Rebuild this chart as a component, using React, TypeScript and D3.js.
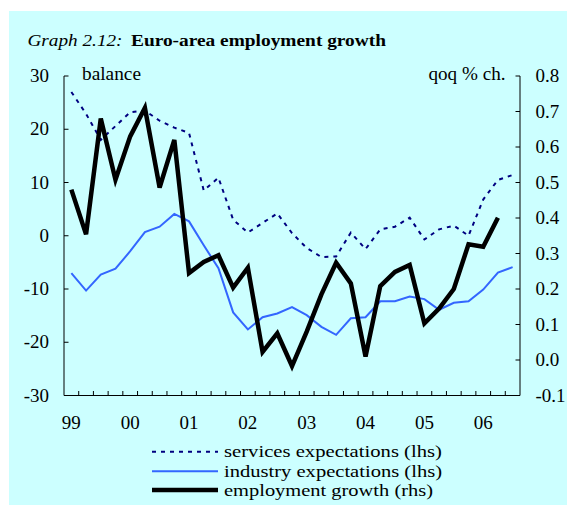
import * as d3 from "d3";

// quarterly, 1999Q1 .. 2006Q3
const quarters = [
  "1999Q1", "1999Q2", "1999Q3", "1999Q4",
  "2000Q1", "2000Q2", "2000Q3", "2000Q4",
  "2001Q1", "2001Q2", "2001Q3", "2001Q4",
  "2002Q1", "2002Q2", "2002Q3", "2002Q4",
  "2003Q1", "2003Q2", "2003Q3", "2003Q4",
  "2004Q1", "2004Q2", "2004Q3", "2004Q4",
  "2005Q1", "2005Q2", "2005Q3", "2005Q4",
  "2006Q1", "2006Q2", "2006Q3",
];

// balance (lhs)
const servicesExp = [
  27.0, 22.9, 18.0, 20.6, 23.2, 23.5, 21.6, 20.3,
  19.3, 8.5, 10.9, 3.0, 0.6, 2.4, 4.2, 0.5,
  -2.3, -4.0, -3.9, 0.6, -2.5, 1.2, 1.7, 3.4,
  -0.7, 1.2, 1.9, 0.0, 6.8, 10.5, 11.4,
];
const industryExp = [
  -7.0, -10.3, -7.3, -6.2, -2.9, 0.7, 1.7, 4.1,
  2.7, -1.8, -6.1, -14.4, -17.6, -15.3, -14.6, -13.4,
  -14.9, -17.1, -18.6, -15.5, -15.3, -12.3, -12.3, -11.4,
  -11.9, -13.9, -12.6, -12.3, -10.1, -6.9, -5.9,
];
// qoq % ch. (rhs), ends 2006Q2
const employmentGrowth = [
  0.48, 0.354, 0.68, 0.508, 0.63, 0.71, 0.486, 0.62,
  0.245, 0.276, 0.295, 0.204, 0.26, 0.023, 0.075, -0.017,
  0.08, 0.185, 0.274, 0.216, 0.01, 0.208, 0.248, 0.268,
  0.103, 0.145, 0.2, 0.326, 0.319, 0.401,
];

const lhsTicks = [30, 20, 10, 0, -10, -20, -30];
const rhsTicks = [0.8, 0.7, 0.6, 0.5, 0.4, 0.3, 0.2, 0.1, 0.0, -0.1];

const W = 567;
const H = 505;
const left = 64;
const right = 520;
const top = 76;
const bottom = 395.5;
const font = "'Liberation Serif', 'Times New Roman', serif";

export default function App() {
  const x = d3.scaleBand<string>().domain(quarters).range([left, right]);
  const yL = d3.scaleLinear().domain([-30, 30]).range([bottom, top]);
  const yR = d3.scaleLinear().domain([-0.1, 0.8]).range([bottom, top]);
  const cx = (i: number) => (x(quarters[i]) as number) + x.bandwidth() / 2;

  const lineL = d3.line<number>().x((d, i) => cx(i)).y(d => yL(d));
  const lineR = d3.line<number>().x((d, i) => cx(i)).y(d => yR(d));

  const yearStarts = quarters.filter(q => q.endsWith("Q1"));

  const legend = [
    { label: "services expectations (lhs)", color: "#000080", width: 2, dash: "4 5", len: 218 },
    { label: "industry expectations (lhs)", color: "#3366FF", width: 2, dash: undefined, len: 218 },
    { label: "employment growth (rhs)", color: "#000000", width: 4.5, dash: undefined, len: 209 },
  ];
  const legendY = [451.7, 471.3, 490];

  return (
    <div style={{ position: "absolute", left: 0, top: 0 }}>
      <svg width={W} height={H} style={{ display: "block" }} fontFamily={font}>
        <rect x={0} y={0} width={W} height={H} fill="#ffffff" />
        <rect x={9} y={11} width={W - 9} height={H - 11} fill="#CCFFFF" />

        {/* title */}
        <text x={27.5} y={46} fontSize={17.5} fontStyle="italic" textLength={95} lengthAdjust="spacingAndGlyphs">
          Graph 2.12:
        </text>
        <text x={131} y={46} fontSize={17.5} fontWeight="bold" textLength={255} lengthAdjust="spacingAndGlyphs">
          Euro-area employment growth
        </text>

        {/* unit labels */}
        <text x={82} y={80} fontSize={18} textLength={59} lengthAdjust="spacingAndGlyphs">balance</text>
        <text x={428.5} y={80} fontSize={18} textLength={77} lengthAdjust="spacingAndGlyphs">qoq % ch.</text>

        {/* axes */}
        <g stroke="#000" strokeWidth={1} fill="none">
          <line x1={left} x2={left} y1={top} y2={bottom} />
          <line x1={right} x2={right} y1={top} y2={bottom} />
          <line x1={left} x2={right} y1={bottom} y2={bottom} />
          {lhsTicks.map(t => (
            <line key={"l" + t} x1={left} x2={left + 4.5} y1={yL(t)} y2={yL(t)} />
          ))}
          {rhsTicks.map(t => (
            <line key={"r" + t} x1={right - 4.5} x2={right} y1={yR(t)} y2={yR(t)} />
          ))}
          {quarters.slice(1).map(q => (
            <line key={"x" + q} x1={x(q)} x2={x(q)} y1={bottom} y2={bottom - 4.5} />
          ))}
        </g>

        {/* tick labels */}
        <g fontSize={19} fill="#000">
          {lhsTicks.map(t => (
            <text key={"lt" + t} x={49} y={yL(t) + 6} textAnchor="end">{t}</text>
          ))}
          {rhsTicks.map(t => (
            <text key={"rt" + t} x={535.5} y={yR(t) + 6}>{t.toFixed(1)}</text>
          ))}
          {yearStarts.map(q => (
            <text key={"yt" + q} x={(x(q) as number) + x.bandwidth() / 2} y={429} textAnchor="middle">
              {q.slice(2, 4)}
            </text>
          ))}
        </g>

        {/* series */}
        <path d={lineL(servicesExp) || ""} fill="none" stroke="#000080" strokeWidth={2} strokeDasharray="4 5" />
        <path d={lineL(industryExp) || ""} fill="none" stroke="#3366FF" strokeWidth={2} />
        <path d={lineR(employmentGrowth) || ""} fill="none" stroke="#000" strokeWidth={4.5} strokeLinejoin="miter" />

        {/* legend */}
        {legend.map((l, i) => (
          <g key={l.label}>
            <line x1={152} x2={218} y1={legendY[i]} y2={legendY[i]} stroke={l.color}
              strokeWidth={l.width} strokeDasharray={l.dash} />
            <text x={224} y={legendY[i] + 5.5} fontSize={17} textLength={l.len} lengthAdjust="spacingAndGlyphs">
              {l.label}
            </text>
          </g>
        ))}
      </svg>
    </div>
  );
}
